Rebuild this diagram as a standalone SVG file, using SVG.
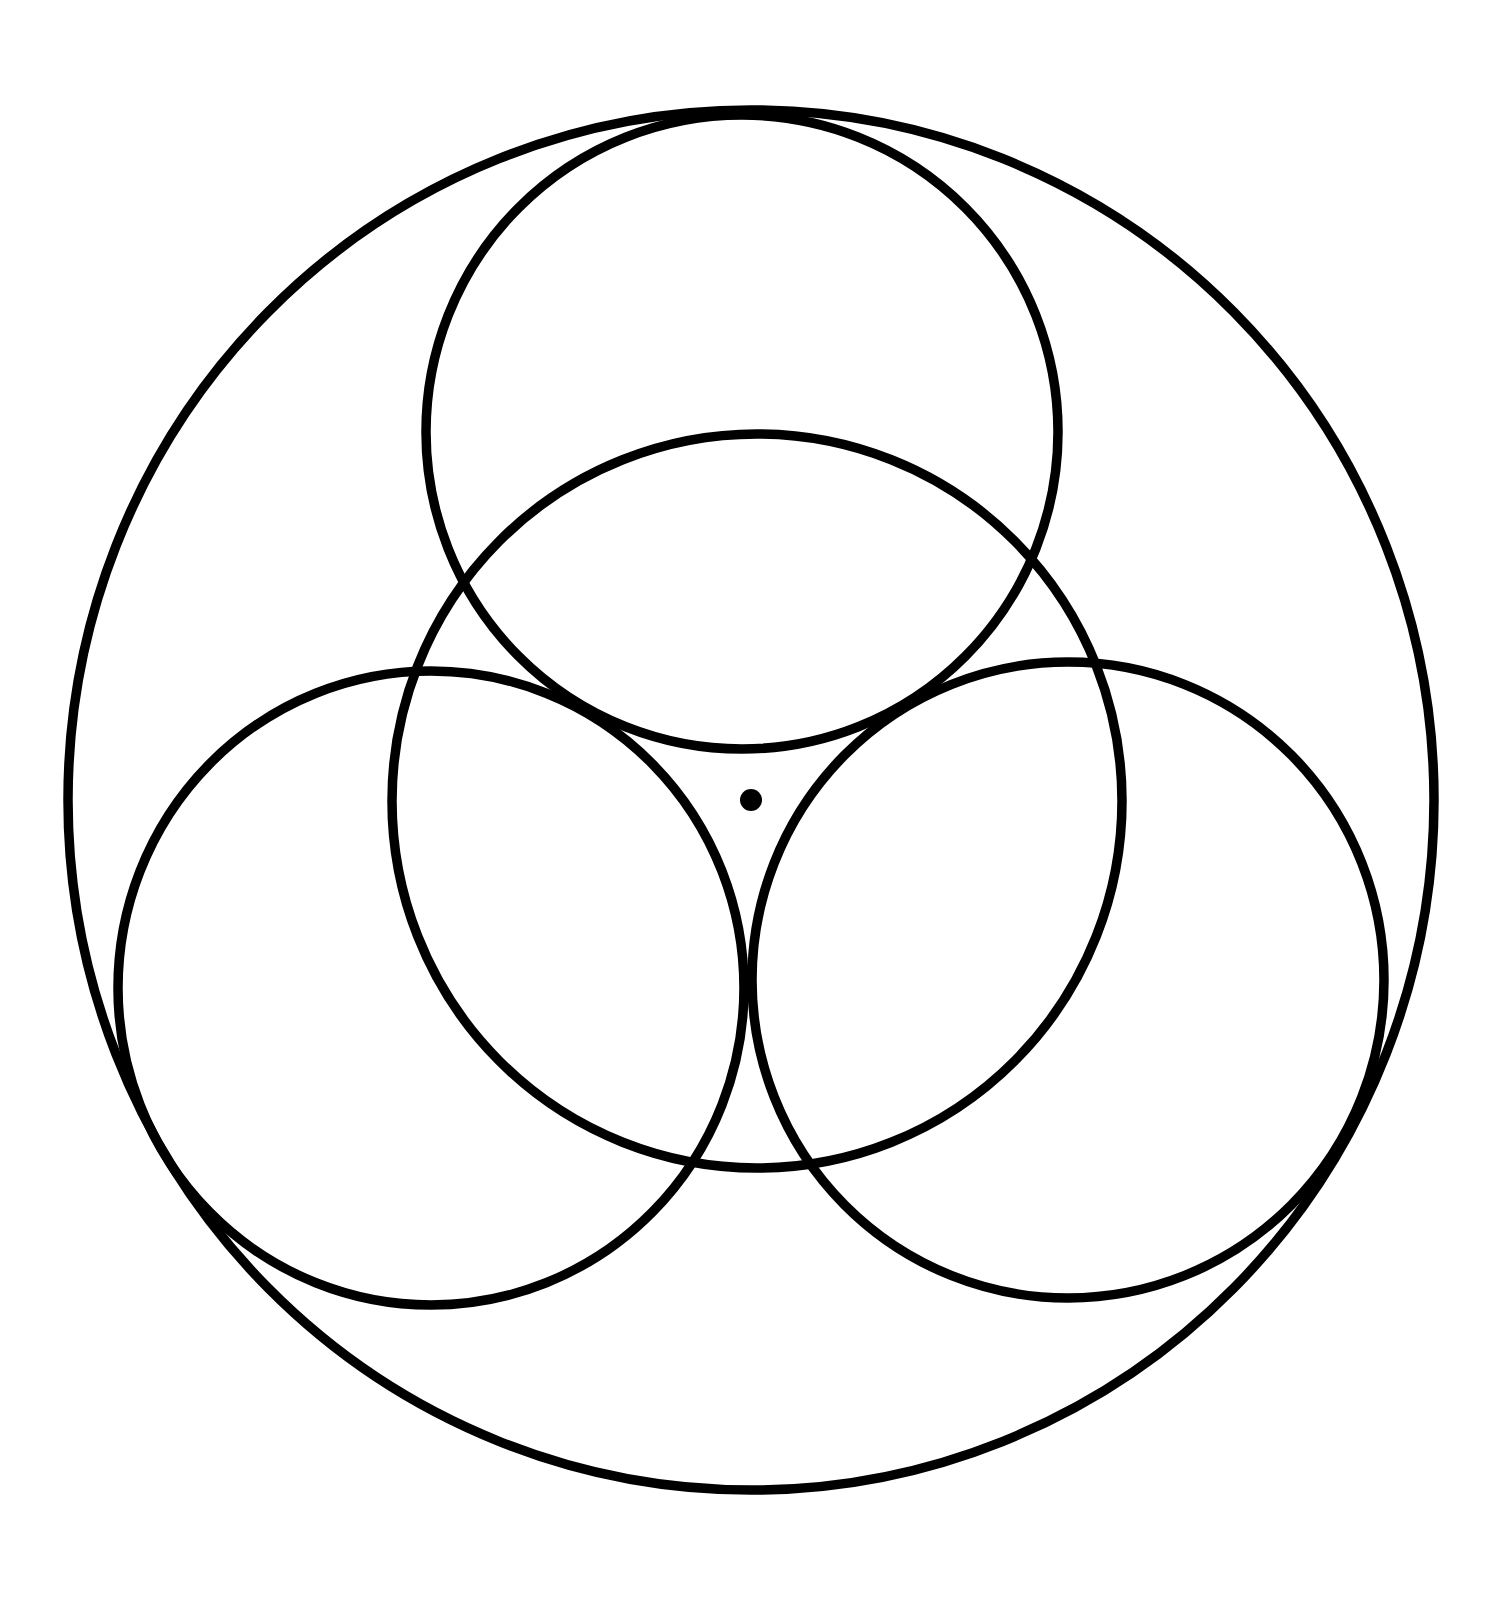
<svg xmlns="http://www.w3.org/2000/svg" width="1495" height="1600" viewBox="0 0 1495 1600">
<style>
.c{fill:none;stroke:#000;stroke-width:9.5}
</style>
<rect width="1495" height="1600" fill="#fff"/>
<g id="outer"><ellipse class="c" cx="751" cy="800" rx="683" ry="690"/></g>
<g id="top"><ellipse class="c" cx="742" cy="432" rx="316" ry="317"/></g>
<g id="middle"><ellipse class="c" cx="757" cy="801" rx="365" ry="367"/></g>
<g id="left"><ellipse class="c" cx="431" cy="988" rx="313" ry="317"/></g>
<g id="right"><ellipse class="c" cx="1068" cy="980" rx="316" ry="318"/></g>
<g id="center"><circle cx="751" cy="800" r="11" fill="#000"/></g>
</svg>
